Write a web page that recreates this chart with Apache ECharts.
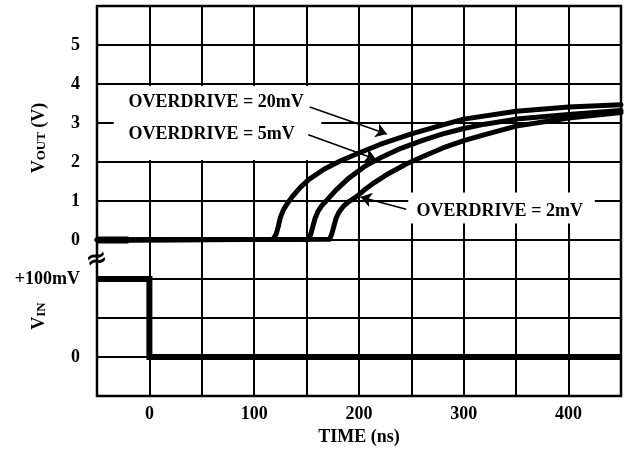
<!DOCTYPE html>
<html>
<head>
<meta charset="utf-8">
<script src="https://cdn.jsdelivr.net/npm/echarts@6/dist/echarts.min.js"></script>
<style>
html,body{margin:0;padding:0;background:#fff;}
#chart{width:628px;height:451px;}
</style>
</head>
<body>
<div id="chart"></div>
<script>
// ---- data ----
const xLabelTicks = [0, 100, 200, 300, 400];
const yTickLabels = {"5":"5","4":"4","3":"3","2":"2","1":"1","0":"0","-1":"+100mV","-3":"0"};

const t20 = [-50, 118, 121, 123, 125, 128, 132, 136, 144, 152, 167, 183, 200, 220, 250, 280, 300, 350, 400, 450];
const v20 = [0, 0.02, 0.15, 0.35, 0.58, 0.78, 0.95, 1.1, 1.35, 1.55, 1.82, 2.04, 2.23, 2.45, 2.72, 2.95, 3.1, 3.3, 3.41, 3.47];

const t5 = [-50, 152, 154, 156, 158, 161, 165, 170, 178, 190, 205, 220, 240, 260, 280, 300, 320, 350, 400, 450];
const v5 = [0, 0.02, 0.15, 0.35, 0.55, 0.74, 0.9, 1.04, 1.28, 1.58, 1.88, 2.1, 2.35, 2.55, 2.72, 2.86, 2.97, 3.1, 3.22, 3.32];

const t2 = [-50, 172, 174, 176, 178, 181, 185, 190, 197, 205, 215, 228, 245, 260, 280, 300, 320, 350, 400, 450];
const v2 = [0, 0.02, 0.15, 0.35, 0.55, 0.72, 0.86, 0.98, 1.1, 1.28, 1.48, 1.7, 1.95, 2.13, 2.36, 2.55, 2.7, 2.92, 3.13, 3.27];

const tStartOverlap = [-50, -20];
const vStartOverlap = [0, 0];

const tIn = [-50, 0, 0, 450];
const vIn = [-1, -1, -3, -3];

const labelTexts = ["OVERDRIVE = 20mV", "OVERDRIVE = 5mV", "OVERDRIVE = 2mV"];
const labelAnchors = [[-20.5, 3.54], [-20.5, 2.71], [254.5, 0.74]];
const arrowFrom = [[153, 3.41], [151.6, 2.70], [245, 0.79]];
const arrowTo = [[226.6, 2.72], [216.1, 2.07], [201.4, 1.10]];
const whiteBoxes = [[[-34, 3.95], [164, 2.05]], [[247, 1.22], [425, 0.42]]];

function zip(a, b) { return a.map((v, i) => [v, b[i]]); }

const FONT = 'Liberation Serif';
const txt = {fontFamily: FONT, fontWeight: 'bold', fontSize: 18, color: '#000'};

const chart = echarts.init(document.getElementById('chart'), null, {renderer: 'canvas'});

const curveStyle = {color: '#000', width: 5, cap: 'round', join: 'round'};
const richSub = {
  a: {fontFamily: FONT, fontWeight: 'bold', fontSize: 18, lineHeight: 22, verticalAlign: 'bottom'},
  b: {fontFamily: FONT, fontWeight: 'bold', fontSize: 13, lineHeight: 22, verticalAlign: 'bottom', padding: [7, 0, 0, 0]}
};

chart.setOption({
  animation: false,
  backgroundColor: '#fff',
  grid: {left: 97, right: 7, top: 6, bottom: 55, show: true, borderColor: '#000', borderWidth: 2.5, backgroundColor: 'transparent'},
  xAxis: {
    type: 'value', min: -50, max: 450, interval: 50,
    axisLine: {show: false}, axisTick: {show: false},
    splitLine: {show: true, lineStyle: {color: '#000', width: 2}},
    axisLabel: Object.assign({margin: 9, formatter: v => xLabelTicks.indexOf(v) >= 0 ? String(v) : ''}, txt),
    name: 'TIME (ns)', nameLocation: 'middle', nameGap: 31,
    nameTextStyle: txt
  },
  yAxis: {
    type: 'value', min: -4, max: 6, interval: 1,
    axisLine: {show: false}, axisTick: {show: false},
    splitLine: {show: true, lineStyle: {color: '#000', width: 2}},
    axisLabel: Object.assign({margin: 17, formatter: v => yTickLabels[String(v)] || ''}, txt)
  },
  graphic: [
    {type: 'text', x: 37, y: 138, rotation: Math.PI / 2,
     style: {text: '{a|V}{b|OUT}{a| (V)}', align: 'center', verticalAlign: 'middle', rich: richSub}},
    {type: 'text', x: 37, y: 316, rotation: Math.PI / 2,
     style: {text: '{a|V}{b|IN}', align: 'center', verticalAlign: 'middle', rich: richSub}},
    {type: 'text', x: 97, y: 260, rotation: 0.25, z: 10,
     style: {text: '\u2248', align: 'center', verticalAlign: 'middle', fontFamily: 'DejaVu Sans', fontWeight: 'bold', fontSize: 26, fill: '#000'}}
  ],
  series: [
    {type: 'line', data: [], z: 1, silent: true,
     markArea: {silent: true, itemStyle: {color: '#fff', opacity: 1},
       data: whiteBoxes.map(b => [{coord: b[0]}, {coord: b[1]}])}},
    {type: 'line', data: zip(tIn, vIn), symbol: 'none', z: 3, lineStyle: {color: '#000', width: 6, cap: 'butt', join: 'miter'}},
    {type: 'line', data: zip(tStartOverlap, vStartOverlap), symbol: 'none', z: 3, lineStyle: {color: '#000', width: 7}},
    {type: 'line', data: zip(t20, v20), symbol: 'none', z: 3, lineStyle: curveStyle},
    {type: 'line', data: zip(t5, v5), symbol: 'none', z: 3, lineStyle: curveStyle},
    {type: 'line', data: zip(t2, v2), symbol: 'none', z: 3, lineStyle: curveStyle,
     markLine: {silent: true, symbol: ['none', 'arrow'], symbolSize: 11, label: {show: false},
       lineStyle: {color: '#000', width: 1.5, type: 'solid'},
       data: arrowFrom.map((f, i) => [{coord: f}, {coord: arrowTo[i]}])},
     markPoint: {silent: true, symbol: 'circle', symbolSize: 1, itemStyle: {color: 'rgba(0,0,0,0)'},
       label: Object.assign({show: true, position: 'right', distance: 0}, txt),
       data: labelTexts.map((s, i) => ({coord: labelAnchors[i], value: s, label: {formatter: s}}))}}
  ]
});
</script>
</body>
</html>
